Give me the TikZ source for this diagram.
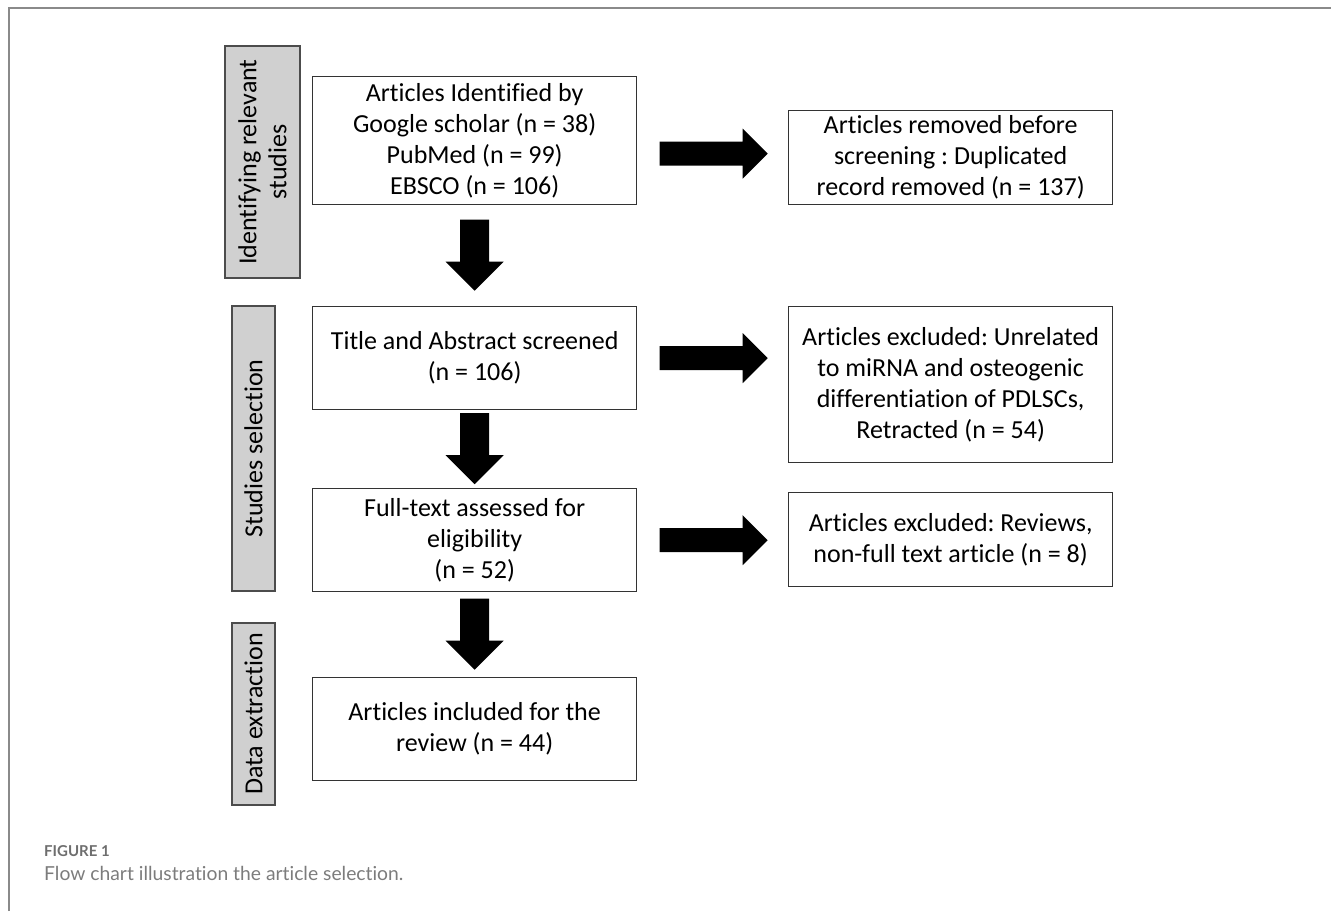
\documentclass[tikz,border=0pt]{standalone}
\usepackage{fontspec}
\setmainfont{Carlito}[Ligatures=NoCommon]
\newfontfamily\capfont{Lato}[Ligatures=NoCommon]
\usetikzlibrary{calc}
\frenchspacing
\definecolor{sidegray}{HTML}{D0D0D0}
\definecolor{boxline}{HTML}{333333}
\definecolor{framegray}{HTML}{8A8A8A}
\definecolor{capgray}{HTML}{6E6E6E}
\tikzset{
  box/.style={draw=boxline, line width=1.3pt, fill=white, inner sep=0pt, anchor=north west,
    minimum width=324pt, align=center, font=\fontsize{26}{31}\selectfont},
  side/.style={draw=black!70, line width=1.2pt, fill=sidegray, inner sep=0pt, rotate=90,
    align=center, font=\fontsize{26}{30}\selectfont},
  fatdown/.style={fill=black, to path={let \p1=(\tikztostart), \p2=($(\tikztostart)!0.5!(\tikztotarget)$) in
    (\x1-14.5pt,\y2+36pt) -- (\x1+14.5pt,\y2+36pt) -- (\x1+14.5pt,\y2-6pt) -- (\x1+29pt,\y2-6pt)
    -- (\x1,\y2-35pt) -- (\x1-29pt,\y2-6pt) -- (\x1-14.5pt,\y2-6pt) -- cycle}},
  fatright/.style={fill=black, to path={let \p1=(\tikztostart), \p2=($(\tikztostart)!0.5!(\tikztotarget)$) in
    (\x2-53pt,\y1+12pt) -- (\x2+30pt,\y1+12pt) -- (\x2+30pt,\y1+25pt) -- (\x2+55pt,\y1)
    -- (\x2+30pt,\y1-25pt) -- (\x2+30pt,\y1-12pt) -- (\x2-53pt,\y1-12pt) -- cycle}}
}
\begin{document}
\begin{tikzpicture}[x=1pt,y=-1pt]
\useasboundingbox (0,0) rectangle (1331,911);
% frame
\coordinate (fl) at (9,911);
\coordinate (fc) at (9,8);
\coordinate (fr) at (1331,8);
\draw[framegray, line width=1.4pt] (fl) -- (fc) -- (fr);
% side labels
\node[side, minimum width=232pt, minimum height=75pt] (S1) at (262.5,162) {Identifying relevant\\studies};
\node[side, minimum width=285pt, minimum height=43pt] (S2) at (253.5,448.5) {Studies selection};
\node[side, minimum width=182pt, minimum height=43pt] (S3) at (253.5,714) {Data extraction};
% main boxes
\node[box, minimum height=128pt] (A) at (312,76) {Articles Identified by\\Google scholar (n = 38)\\PubMed (n = 99)\\EBSCO (n = 106)};
\node[box, minimum height=103pt] (B) at (312,306) {Title and Abstract screened\\(n = 106)};
\node[box, minimum height=103pt] (C) at (312,488) {Full-text assessed for\\eligibility\\(n = 52)};
\node[box, minimum height=103pt] (D) at (312,677) {Articles included for the\\review (n = 44)};
% right boxes
\node[box, minimum height=94pt] (R1) at (788,110) {Articles removed before\\screening : Duplicated\\record removed (n = 137)};
\node[box, minimum height=156pt] (R2) at (788,306) {Articles excluded: Unrelated\\to miRNA and osteogenic\\differentiation of PDLSCs,\\Retracted (n = 54)};
\node[box, minimum height=94pt] (R3) at (788,492) {Articles excluded: Reviews,\\non-full text article (n = 8)};
% arrows
\fill (A.south) to[fatdown] (B.north);
\fill (B.south) to[fatdown] (C.north);
\fill (C.south) to[fatdown] (D.north);
\fill ([yshift=-13pt]A.east) to[fatright] ([yshift=-13pt]A.east -| R1.west);
\fill (B.east) to[fatright] (B.east -| R2.west);
\fill (C.east) to[fatright] (C.east -| R3.west);
% caption
\node[anchor=base west, inner sep=0pt, text=capgray, font=\capfont\bfseries\fontsize{15}{18}\selectfont] (cap1) at (44,856) {FIGURE 1};
\node[anchor=base west, inner sep=0pt, text=capgray!90, font=\capfont\fontsize{19.3}{23}\selectfont] (cap2) at (44,880) {Flow chart illustration the article selection.};
\end{tikzpicture}
\end{document}
